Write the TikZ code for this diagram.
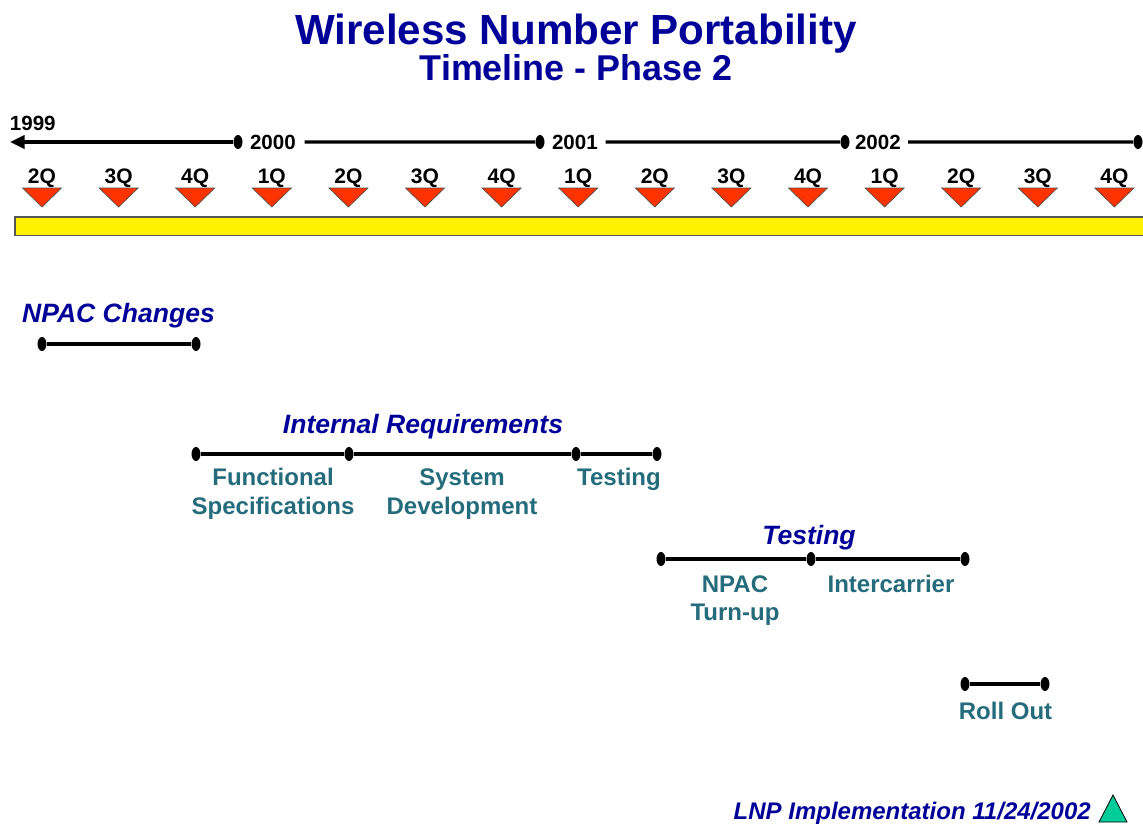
\documentclass[tikz,border=0pt]{standalone}
\usepackage{fontspec}
\setmainfont{Liberation Sans}
\usetikzlibrary{shapes.geometric,arrows.meta}
\definecolor{titleblue}{RGB}{0,0,153}
\definecolor{lblteal}{RGB}{36,108,124}
\definecolor{qred}{RGB}{255,51,0}
\definecolor{tgreen}{RGB}{0,204,153}
\definecolor{barline}{RGB}{85,85,85}
\begin{document}
\begin{tikzpicture}[x=0.75pt,y=-0.75pt,
  pin/.style={ellipse,fill=black,inner sep=0pt,minimum width=6.75pt,minimum height=10.5pt},
  barline/.style={line width=2.4pt,black},
  titletext/.style={font=\fontsize{31.6}{36}\selectfont\bfseries,text=titleblue,anchor=base,inner sep=0pt},
  subtext/.style={font=\fontsize{26.9}{31}\selectfont\bfseries,text=titleblue,anchor=base,inner sep=0pt},
  yeartext/.style={font=\fontsize{15.4}{18}\selectfont\bfseries,anchor=base west,inner sep=0pt,outer sep=0pt},
  qtext/.style={font=\fontsize{15.75}{18}\selectfont\bfseries,anchor=base,inner sep=0pt},
  qmark/.style={fill=qred,draw=black!70,line width=0.5pt},
  heading/.style={font=\fontsize{19.9}{24}\selectfont\bfseries\itshape,text=titleblue,anchor=base,inner sep=0pt},
  lbl/.style={font=\fontsize{18}{22}\selectfont\bfseries,text=lblteal,anchor=base,inner sep=0pt},
  foot/.style={font=\fontsize{18}{22}\selectfont\bfseries\itshape,text=titleblue,anchor=base east,inner sep=0pt}
]
\clip (0,0) rectangle (1143,825);
\fill[white] (0,0) rectangle (1143,825);

% Titles
\node[titletext] (title) at (576,44) {Wireless Number Portability};
\node[subtext] (subtitle) at (576,80) {Timeline - Phase 2};

% Year timeline
\node[pin] (d2000) at (238,142) {};
\node[pin] (d2001) at (540,142) {};
\node[pin] (d2002) at (845,142) {};
\node[pin] (dend) at (1138,142) {};
\coordinate (tip) at (10,142);
\node[yeartext] (y1999) at (10,130.5) {1999};
\node[yeartext] (y2000) at (250,149) {2000};
\node[yeartext] (y2001) at (552,149) {2001};
\node[yeartext] (y2002) at (855,149) {2002};
\draw[barline,-{Triangle[length=11pt,width=10pt]}] (d2000) -- (tip);
\draw[barline] ([xshift=6.75pt]y2000.east) -- (d2001);
\draw[barline] ([xshift=6pt]y2001.east) -- (d2002);
\draw[barline] ([xshift=5.5pt]y2002.east) -- (dend);

% Quarter markers
\foreach \q [count=\i from 0] in {2Q,3Q,4Q,1Q,2Q,3Q,4Q,1Q,2Q,3Q,4Q,1Q,2Q,3Q,4Q} {
  \pgfmathsetmacro{\xq}{42+\i*76.6}
  \node[qtext] (q\i) at (\xq,183) {\q};
  \draw[qmark] (\xq-19.5,188) -- (\xq+19.5,188) -- (\xq,207) -- cycle;
}

% Yellow bar
\fill[yellow,draw=barline,line width=1.2pt] (15,217) rectangle (1150,235.5);

% NPAC Changes
\node[heading] (hnpac) at (118.5,322) {NPAC Changes};
\node[pin] (n1) at (42,344) {};
\node[pin] (n2) at (196,344) {};
\draw[barline] (n1) -- (n2);

% Internal Requirements
\node[heading] (hint) at (423,433.5) {Internal Requirements};
\node[pin] (i1) at (196,454) {};
\node[pin] (i2) at (349,454) {};
\node[pin] (i3) at (576,454) {};
\node[pin] (i4) at (657,454) {};
\draw[barline] (i1) -- (i2);
\draw[barline] (i2) -- (i3);
\draw[barline] (i3) -- (i4);
\node[lbl] (fs1) at (273,485.6) {Functional};
\node[lbl] (fs2) at (273,514.6) {Specifications};
\node[lbl] (sd1) at (462,485.6) {System};
\node[lbl] (sd2) at (462,514.6) {Development};
\node[lbl] (it1) at (619,485.6) {Testing};

% Testing
\node[heading] (htest) at (809,544.5) {Testing};
\node[pin] (t1) at (661,559) {};
\node[pin] (t2) at (811,559) {};
\node[pin] (t3) at (965,559) {};
\draw[barline] (t1) -- (t2);
\draw[barline] (t2) -- (t3);
\node[lbl] (nt1) at (735,592.6) {NPAC};
\node[lbl] (nt2) at (735,620.6) {Turn-up};
\node[lbl] (ic) at (891,592.6) {Intercarrier};

% Roll Out
\node[pin] (r1) at (965,684) {};
\node[pin] (r2) at (1045,684) {};
\draw[barline] (r1) -- (r2);
\node[lbl] (ro) at (1005.5,719.6) {Roll Out};

% Footer
\node[foot] (footer) at (1091,819) {LNP Implementation 11/24/2002};
\draw[fill=tgreen,draw=black,line width=0.6pt] (1099,822) -- (1127,822) -- (1113,795) -- cycle;
\end{tikzpicture}
\end{document}
